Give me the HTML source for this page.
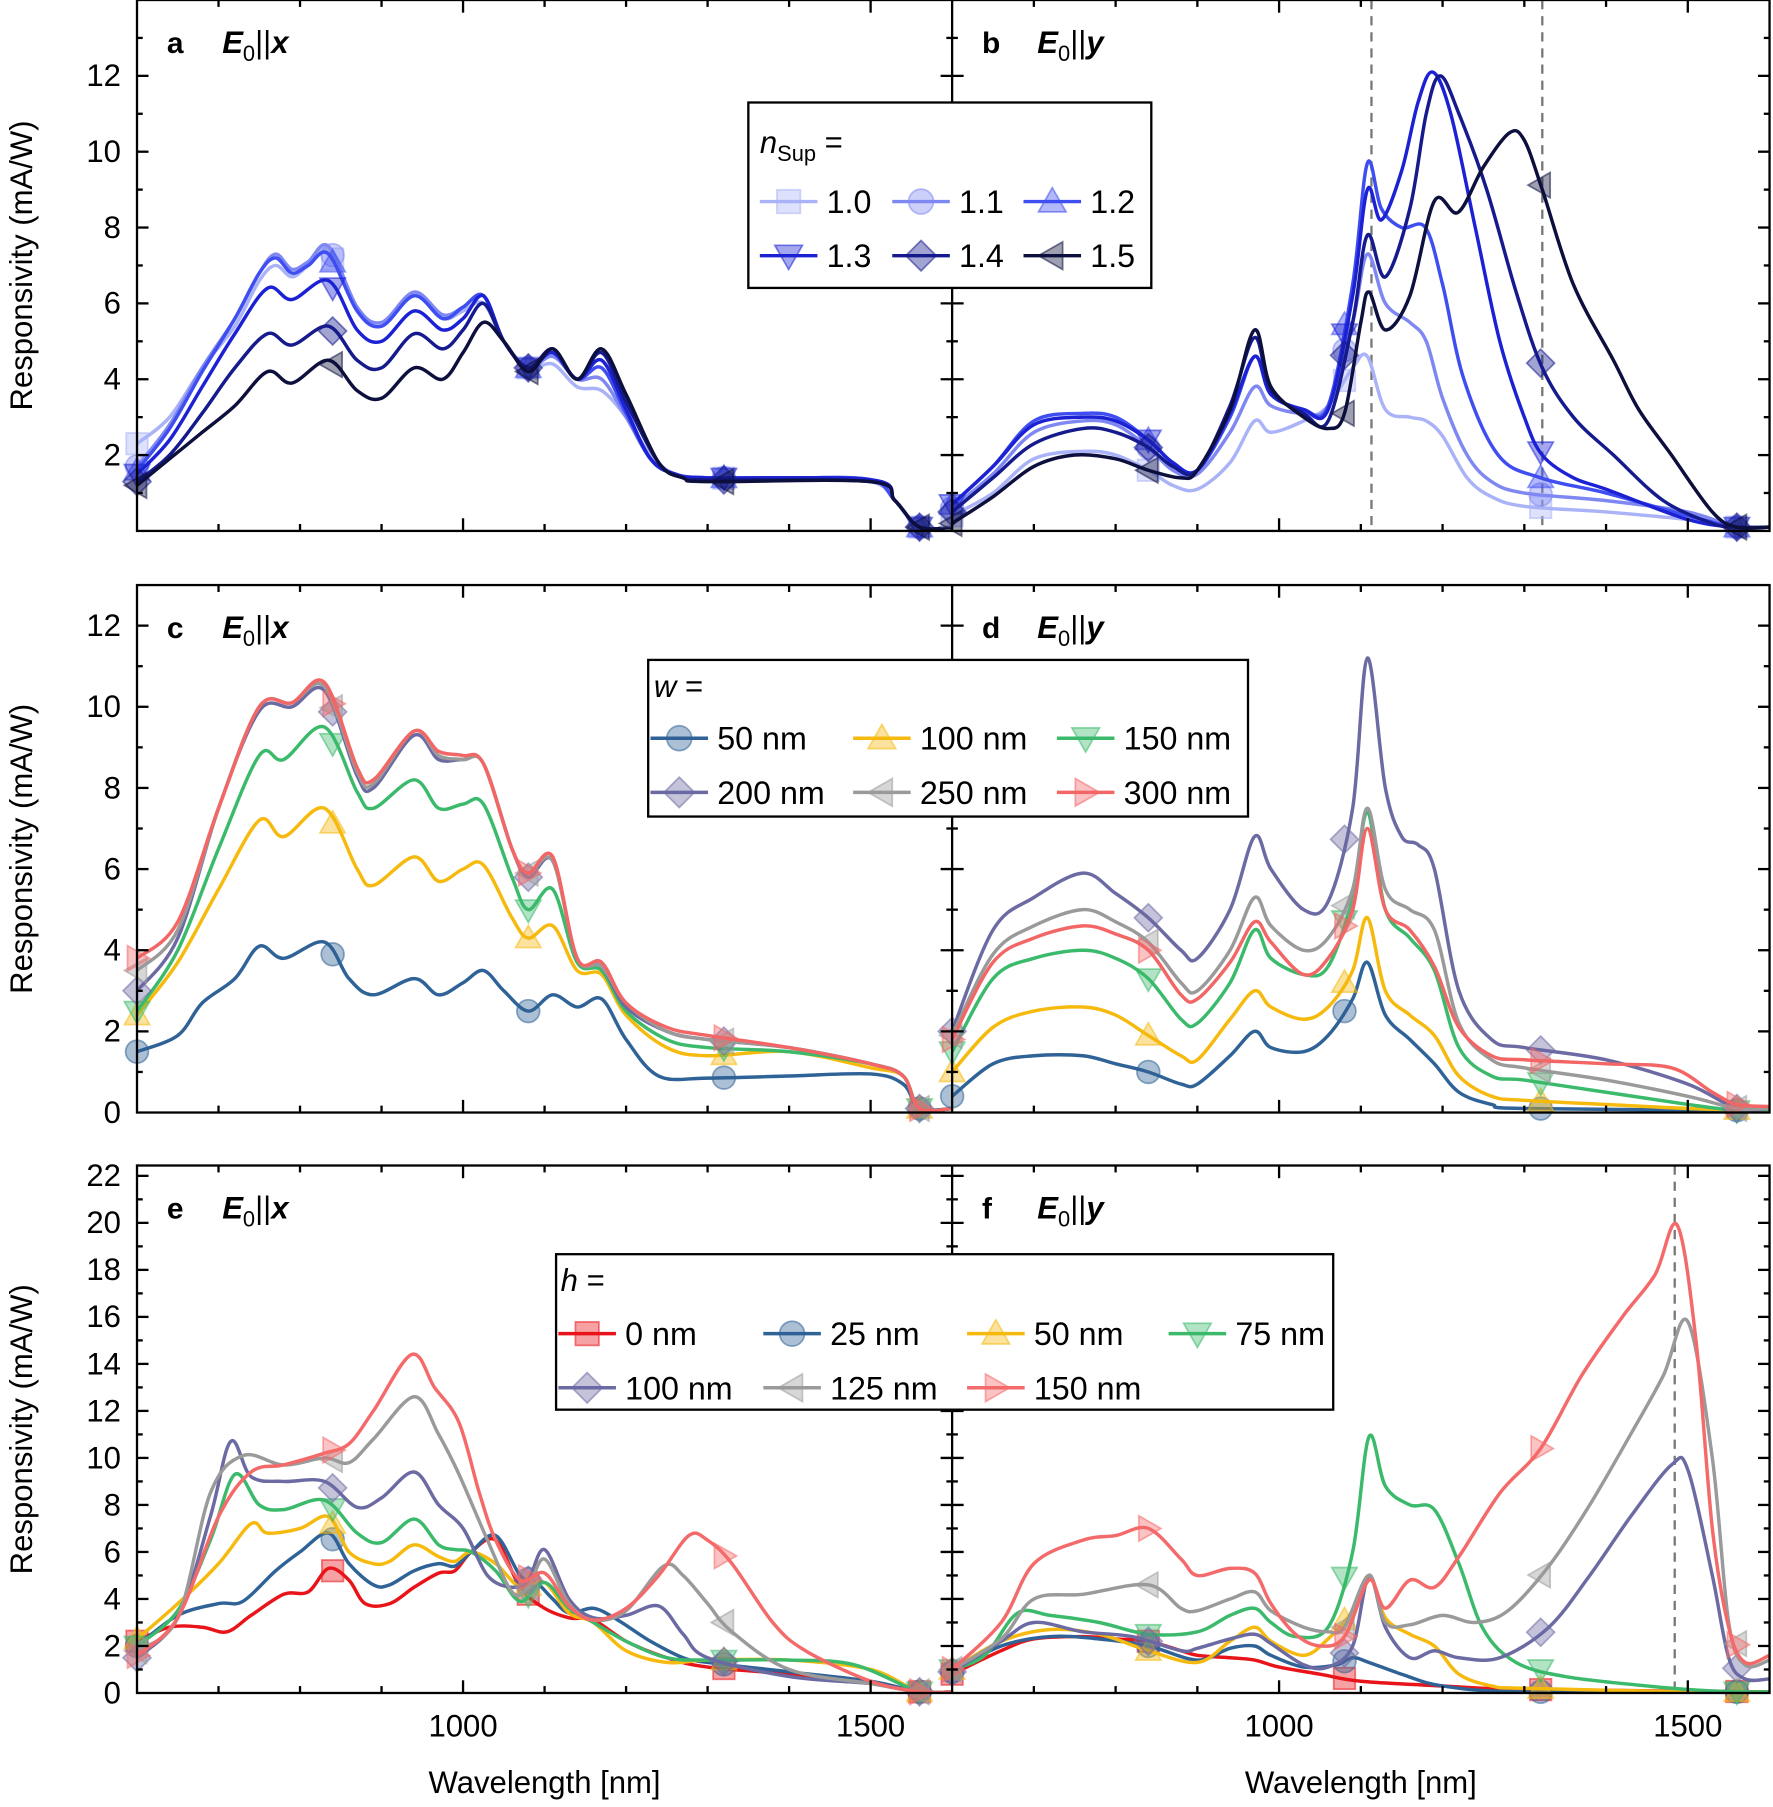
<!DOCTYPE html>
<html><head><meta charset="utf-8">
<style>html,body{margin:0;padding:0;background:#fff}svg{display:block}</style>
</head><body>
<svg id="s" xmlns="http://www.w3.org/2000/svg" width="1773" height="1807" viewBox="0 0 1540 1569" preserveAspectRatio="none" font-family="Liberation Sans, sans-serif"></svg>
<script>
const S=document.getElementById('s');let H='';
const P={a:{x0:119,x1:827,t:0,b:461,ym:14},b:{x0:827,x1:1537,t:0,b:461,ym:14},
c:{x0:119,x1:827,t:508,b:966,ym:13},d:{x0:827,x1:1537,t:508,b:966,ym:13},
e:{x0:119,x1:827,t:1012,b:1470,ym:22.44},f:{x0:827,x1:1537,t:1012,b:1470,ym:22.44}};
const X=(p,n)=>p.x0+(n-600)*(p.x1-p.x0)/1000, Y=(p,v)=>p.b-v*(p.b-p.t)/p.ym;
function path(pts){let d='M'+pts[0][0].toFixed(1)+','+pts[0][1].toFixed(1);
for(let i=0;i<pts.length-1;i++){const p0=pts[Math.max(0,i-1)],p1=pts[i],p2=pts[i+1],p3=pts[Math.min(pts.length-1,i+2)];
const c1=[p1[0]+(p2[0]-p0[0])/6,p1[1]+(p2[1]-p0[1])/6],c2=[p2[0]-(p3[0]-p1[0])/6,p2[1]-(p3[1]-p1[1])/6];
d+=' C'+c1.map(v=>v.toFixed(1))+' '+c2.map(v=>v.toFixed(1))+' '+p2.map(v=>v.toFixed(1));}return d;}
function interp(a,n){for(let i=0;i<a.length-2;i+=2){if(n>=a[i]&&n<=a[i+2]){const t=(n-a[i])/(a[i+2]-a[i]);return a[i+1]+t*(a[i+3]-a[i+1]);}}return a[a.length-1];}
function marker(sh,x,y,c,r){r=r||11;const st=`fill="${c}" fill-opacity="0.4" stroke="${c}" stroke-opacity="0.55" stroke-width="1.5"`;
switch(sh){case'sq':return`<rect x="${x-r*0.85}" y="${y-r*0.85}" width="${r*1.7}" height="${r*1.7}" ${st}/>`;
case'ci':return`<circle cx="${x}" cy="${y}" r="${r*0.9}" ${st}/>`;
case'up':return`<polygon points="${x},${y-r} ${x-r},${y+r*0.75} ${x+r},${y+r*0.75}" ${st}/>`;
case'dn':return`<polygon points="${x},${y+r} ${x-r},${y-r*0.75} ${x+r},${y-r*0.75}" ${st}/>`;
case'di':return`<polygon points="${x},${y-r*1.1} ${x+r*1.1},${y} ${x},${y+r*1.1} ${x-r*1.1},${y}" ${st}/>`;
case'le':return`<polygon points="${x-r},${y} ${x+r*0.75},${y-r} ${x+r*0.75},${y+r}" ${st}/>`;
case're':return`<polygon points="${x+r},${y} ${x-r*0.75},${y-r} ${x-r*0.75},${y+r}" ${st}/>`;}}
const MK=[600,840,1080,1320,1560];
function series(pk,data,col,sh){const p=P[pk];const pts=[];for(let i=0;i<data.length;i+=2)pts.push([X(p,data[i]),Y(p,data[i+1])]);
H+=`<path d="${path(pts)}" fill="none" stroke="${col}" stroke-width="3" stroke-linejoin="round" clip-path="url(#cl${pk})"/>`;
MK.forEach(n=>{H+=marker(sh,X(p,n),Y(p,interp(data,n)),col);});}
// clips
H+='<defs>';for(const k in P){const p=P[k];H+=`<clipPath id="cl${k}"><rect x="${p.x0}" y="${p.t}" width="${p.x1-p.x0}" height="${p.b-p.t}"/></clipPath>`;}H+='</defs>';
// dashed lines
[[ 'b',1113],['b',1322],['f',1484]].forEach(([k,n])=>{const p=P[k];const x=X(p,n);H+=`<line x1="${x}" x2="${x}" y1="${p.t}" y2="${p.b}" stroke="#777" stroke-width="2" stroke-dasharray="8,6"/>`;});
const CA=['#aab3f7','#7f88f2','#3f4ef0','#1c22d4','#151a8c','#0d0f3d'],SA=['sq','ci','up','dn','di','le'];
const A=[[600,2.3,640,3.0,680,4.3,720,5.4,750,6.6,770,7.0,790,6.7,810,7.0,835,7.4,870,5.8,900,5.4,940,6.2,975,5.6,1000,5.8,1025,6.0,1050,5.0,1080,4.3,1110,4.4,1140,3.8,1170,3.7,1200,3.0,1230,2.0,1260,1.5,1300,1.4,1400,1.35,1500,1.3,1530,0.8,1560,0.1,1600,0.1],
[600,1.7,640,2.8,680,4.3,720,5.6,750,6.8,770,7.3,790,6.9,810,7.1,835,7.5,870,5.9,900,5.5,940,6.3,975,5.7,1000,5.9,1025,6.2,1050,5.0,1080,4.3,1110,4.6,1140,4.0,1170,4.0,1200,3.0,1230,1.9,1260,1.5,1300,1.4,1400,1.4,1500,1.35,1530,0.8,1560,0.1,1600,0.1],
[600,1.6,640,2.7,680,4.2,720,5.6,750,6.8,770,7.2,790,6.8,810,7.0,835,7.3,870,5.8,900,5.4,940,6.2,975,5.6,1000,5.9,1025,6.2,1050,5.0,1080,4.3,1110,4.7,1140,4.0,1170,4.3,1200,3.1,1230,1.9,1260,1.5,1300,1.4,1400,1.4,1500,1.35,1530,0.8,1560,0.1,1600,0.1],
[600,1.5,640,2.4,680,3.8,720,5.2,760,6.4,790,6.1,835,6.6,870,5.3,900,5.0,940,5.8,975,5.3,1000,5.6,1025,6.2,1050,5.0,1080,4.3,1110,4.7,1140,4.0,1170,4.5,1200,3.2,1230,1.9,1260,1.5,1300,1.4,1500,1.35,1530,0.8,1560,0.1,1600,0.1],
[600,1.3,640,2.0,680,3.1,720,4.3,760,5.2,790,4.9,835,5.4,870,4.5,900,4.3,940,5.2,975,4.8,1000,5.3,1025,6.0,1050,5.0,1080,4.3,1110,4.8,1140,4.0,1170,4.7,1200,3.4,1240,1.8,1270,1.4,1300,1.35,1500,1.3,1530,0.8,1560,0.1,1600,0.1],
[600,1.2,640,1.9,680,2.6,720,3.3,760,4.2,790,3.9,835,4.5,870,3.7,900,3.5,940,4.3,975,4.0,1000,4.7,1025,5.5,1050,5.0,1080,4.2,1110,4.8,1140,4.0,1170,4.8,1200,3.6,1240,1.8,1270,1.4,1300,1.3,1500,1.3,1530,0.8,1560,0.1,1600,0.1]];
const B=[[600,0.4,650,1.0,700,1.9,760,2.1,800,2.0,840,1.6,870,1.2,900,1.1,940,1.8,970,2.9,990,2.6,1030,2.9,1060,3.3,1090,4.3,1108,4.6,1130,3.2,1160,3.0,1180,2.9,1200,2.5,1230,1.4,1260,0.9,1300,0.65,1400,0.5,1500,0.3,1560,0.1,1600,0.1],
[600,0.6,650,1.5,700,2.6,760,2.9,800,2.8,840,2.2,870,1.6,900,1.5,940,2.6,970,3.8,990,3.3,1030,3.1,1060,3.3,1090,5.5,1108,7.3,1130,6.0,1160,5.5,1180,5.0,1200,3.5,1230,2.0,1260,1.3,1300,1.0,1400,0.8,1500,0.5,1560,0.1,1600,0.1],
[600,0.7,650,1.7,700,2.9,760,3.1,800,3.0,840,2.4,870,1.8,900,1.6,940,3.0,970,4.6,990,3.6,1030,3.2,1060,3.3,1090,6.5,1108,9.7,1125,8.5,1150,8.0,1179,8.0,1200,6.5,1226,4.0,1268,2.0,1320,1.4,1400,1.0,1500,0.4,1560,0.1,1600,0.1],
[600,0.7,650,1.7,700,2.8,760,3.0,800,2.9,840,2.4,870,1.8,900,1.6,940,3.1,970,4.6,990,3.6,1030,3.2,1060,3.2,1090,6.2,1108,9.0,1125,8.2,1150,9.5,1170,11.3,1188,12.1,1210,11,1240,8.0,1270,5.0,1300,3.0,1322,2.0,1360,1.4,1400,1.1,1500,0.3,1560,0.1,1600,0.1],
[600,0.5,650,1.4,700,2.3,760,2.7,800,2.6,840,2.2,870,1.7,900,1.6,940,3.3,970,5.1,990,3.7,1030,3.1,1060,2.9,1090,5.5,1108,7.8,1130,6.7,1160,8.5,1180,11.0,1197,12.0,1220,11.0,1254,9.0,1290,6.3,1322,4.3,1360,3.0,1409,2.0,1470,0.8,1530,0.2,1560,0.1,1600,0.1],
[600,0.2,650,0.9,700,1.7,750,2.0,800,1.9,840,1.6,880,1.4,900,1.6,940,3.2,970,5.3,990,3.8,1030,3.0,1060,2.7,1080,3.1,1100,5.5,1110,6.3,1130,5.3,1160,6.2,1190,8.7,1219,8.4,1250,9.6,1282,10.5,1300,10.3,1322,9.0,1360,6.5,1409,4.5,1440,3.2,1480,2.0,1530,0.5,1560,0.1,1600,0.1]];
A.forEach((d,i)=>series('a',d,CA[i],SA[i]));B.forEach((d,i)=>series('b',d,CA[i],SA[i]));
const CW=['#2f6296','#f6ba0e','#3bba6c','#6b6aa3','#9a9a9a','#f26666'],SW=['ci','up','dn','di','le','re'];
const C=[[600,1.5,650,1.9,680,2.7,720,3.3,750,4.1,780,3.8,830,4.2,860,3.3,890,2.9,940,3.3,970,2.9,1000,3.2,1025,3.5,1050,3.0,1080,2.5,1110,2.9,1140,2.6,1170,2.8,1200,1.8,1240,0.9,1300,0.85,1400,0.9,1500,0.95,1540,0.7,1560,0.1,1600,0.1],
[600,2.4,650,3.7,700,5.5,750,7.2,780,6.8,830,7.5,870,6.0,890,5.6,940,6.3,970,5.7,1000,6.0,1025,6.1,1060,4.8,1080,4.3,1110,4.6,1140,3.5,1170,3.4,1200,2.4,1250,1.6,1300,1.4,1400,1.5,1500,1.1,1540,0.9,1560,0.1,1600,0.1],
[600,2.5,650,4.0,700,6.5,750,8.8,780,8.7,830,9.5,870,7.9,890,7.5,940,8.2,970,7.5,1000,7.6,1025,7.6,1060,5.8,1080,5.0,1110,5.5,1140,3.7,1170,3.5,1200,2.5,1250,1.8,1300,1.6,1400,1.5,1500,1.2,1540,0.9,1560,0.1,1600,0.1],
[600,3.0,650,4.3,700,7.5,750,9.9,790,10.0,830,10.4,870,8.3,890,8.0,940,9.3,970,8.7,1000,8.7,1025,8.6,1060,6.5,1080,5.8,1110,6.2,1140,3.8,1170,3.6,1200,2.6,1250,2.0,1300,1.8,1400,1.6,1500,1.2,1540,0.9,1560,0.1,1600,0.1],
[600,3.5,650,4.5,700,7.5,750,10.0,790,10.1,830,10.5,870,8.4,890,8.1,940,9.4,970,8.8,1000,8.7,1025,8.6,1060,6.5,1080,5.9,1110,6.2,1140,3.8,1170,3.6,1200,2.7,1250,2.0,1300,1.8,1400,1.6,1500,1.2,1540,0.9,1560,0.1,1600,0.1],
[600,3.8,650,4.7,700,7.5,750,10.0,790,10.1,830,10.6,870,8.5,890,8.2,940,9.4,970,8.9,1000,8.8,1025,8.6,1060,6.5,1080,5.9,1110,6.3,1140,3.8,1170,3.7,1200,2.7,1250,2.1,1300,1.9,1400,1.6,1500,1.2,1540,0.9,1560,0.1,1600,0.1]];
const D=[[600,0.4,650,1.2,700,1.4,760,1.4,800,1.2,840,1.0,880,0.7,900,0.7,940,1.4,970,2.0,990,1.6,1030,1.5,1060,1.9,1090,2.8,1108,3.7,1130,2.4,1160,1.8,1190,1.2,1220,0.5,1260,0.2,1300,0.1,1600,0.05],
[600,1.0,650,2.1,700,2.5,760,2.6,800,2.4,840,1.9,880,1.4,900,1.3,940,2.3,970,3.0,990,2.6,1030,2.3,1060,2.6,1090,3.5,1108,4.8,1130,3.0,1160,2.4,1190,1.9,1220,0.9,1260,0.4,1300,0.3,1400,0.2,1500,0.1,1600,0.05],
[600,1.5,650,3.3,700,3.8,760,4.0,800,3.8,840,3.3,880,2.3,900,2.2,940,3.2,970,4.5,990,3.8,1030,3.4,1060,3.6,1090,5.3,1108,7.4,1130,5.0,1160,4.3,1190,3.5,1220,1.6,1260,0.9,1300,0.8,1400,0.5,1500,0.2,1560,0.05,1600,0.05],
[600,2.0,650,4.5,700,5.3,760,5.9,800,5.4,840,4.8,880,4.0,900,3.8,940,5.0,970,6.8,990,6.0,1030,5.0,1060,5.2,1090,7.5,1108,11.2,1130,8.0,1150,6.8,1170,6.6,1190,6.0,1220,3.0,1260,1.8,1300,1.6,1400,1.3,1500,0.7,1560,0.1,1600,0.1],
[600,1.9,650,3.9,700,4.6,760,5.0,800,4.7,840,4.2,880,3.2,900,3.0,940,4.0,970,5.3,990,4.6,1030,4.0,1060,4.3,1090,5.5,1108,7.5,1130,5.5,1160,5.0,1190,4.5,1220,2.2,1260,1.3,1300,1.1,1400,0.8,1500,0.4,1560,0.1,1600,0.1],
[600,1.8,650,3.7,700,4.3,760,4.6,800,4.4,840,4.0,880,2.9,900,2.8,940,3.7,970,4.7,990,4.2,1030,3.4,1060,3.8,1090,5.0,1108,7.0,1130,5.0,1160,4.5,1190,3.6,1220,2.1,1260,1.4,1300,1.3,1400,1.2,1480,1.1,1530,0.5,1560,0.2,1600,0.15]];
C.forEach((d,i)=>series('c',d,CW[i],SW[i]));D.forEach((d,i)=>series('d',d,CW[i],SW[i]));
const CH=['#e8141a','#2f6296','#f6ba0e','#3bba6c','#6b6aa3','#9a9a9a','#f46a6a'],SH=['sq','ci','up','dn','di','le','re'];
const E=[[600,2.2,640,2.8,680,2.8,710,2.6,740,3.3,780,4.2,810,4.3,835,5.3,860,4.8,880,3.8,910,3.8,940,4.5,970,5.1,990,5.2,1010,6.0,1040,6.5,1070,4.5,1100,3.6,1130,3.2,1160,3.1,1200,2.2,1250,1.5,1300,1.1,1400,0.8,1500,0.4,1560,0.05,1600,0.05],
[600,2.0,650,3.3,700,3.8,730,3.9,770,5.2,800,6.0,835,6.8,860,5.5,890,4.6,910,4.6,940,5.2,970,5.5,990,5.4,1010,6.0,1040,6.7,1070,5.0,1090,4.7,1110,4.0,1130,3.4,1160,3.6,1190,3.1,1230,2.2,1270,1.5,1300,1.3,1400,0.9,1500,0.5,1560,0.05,1600,0.05],
[600,2.3,650,3.8,700,5.5,740,7.2,760,6.8,800,7.0,835,7.5,860,6.0,890,5.5,910,5.6,940,6.3,970,5.8,990,5.6,1010,6.0,1040,5.5,1070,4.5,1100,4.7,1130,3.4,1160,3.0,1200,1.8,1250,1.3,1300,1.4,1400,1.4,1500,1.0,1560,0.05,1600,0.05],
[600,2.0,650,3.5,690,6.5,720,9.3,750,8.0,780,7.8,830,8.2,870,6.8,900,6.4,940,7.4,970,6.3,990,6.1,1010,6.0,1040,5.2,1070,3.9,1100,4.7,1130,3.6,1160,3.0,1200,2.2,1250,1.5,1300,1.4,1400,1.4,1480,1.2,1560,0.05,1600,0.05],
[600,1.5,650,3.2,690,7.5,715,10.7,740,9.2,780,9.0,830,9.0,870,7.9,900,8.3,940,9.4,970,8.0,1000,7.0,1030,5.0,1060,4.5,1080,4.8,1100,6.1,1130,4.0,1160,3.2,1200,3.3,1240,3.7,1270,2.5,1300,1.5,1400,0.7,1500,0.4,1560,0.05,1600,0.05],
[600,1.8,650,3.2,690,8.5,730,10.1,780,9.7,830,10.0,860,9.8,890,10.8,940,12.6,970,11.0,995,9.3,1030,6.5,1060,4.3,1080,4.5,1100,5.7,1130,3.8,1160,3.1,1200,3.5,1246,5.4,1270,5.0,1300,3.8,1330,2.6,1400,1.0,1500,0.4,1560,0.05,1600,0.05],
[600,1.6,650,3.2,700,7.5,740,9.4,780,9.7,830,10.2,860,10.6,890,12.0,937,14.4,965,13.0,995,11.5,1020,8.5,1040,6.5,1070,4.8,1100,5.1,1130,3.7,1160,3.1,1200,3.6,1240,5.0,1277,6.7,1300,6.5,1330,5.5,1380,3.0,1420,1.8,1500,0.5,1560,0.05,1600,0.05]];
const F=[[600,0.8,660,1.8,700,2.3,760,2.4,800,2.3,840,2.2,880,1.8,900,1.6,940,1.5,970,1.4,1000,1.1,1050,0.8,1100,0.5,1200,0.3,1300,0.15,1600,0.05],
[600,0.9,660,2.0,720,2.4,780,2.3,840,2.0,900,1.4,940,1.9,970,2.0,990,1.6,1030,1.1,1070,1.2,1090,1.5,1110,1.3,1150,0.8,1200,0.3,1300,0.05,1600,0.05],
[600,1.0,660,2.2,720,2.7,780,2.5,840,1.8,900,1.3,940,2.2,970,2.8,990,2.2,1030,1.6,1060,2.3,1090,3.5,1110,5.0,1130,3.2,1160,2.5,1190,2.0,1220,0.8,1260,0.3,1300,0.2,1500,0.05,1600,0.05],
[600,1.0,640,1.6,680,3.4,720,3.3,780,3.0,840,2.5,900,2.6,940,3.3,970,3.6,990,3.0,1020,2.4,1060,2.8,1090,6.0,1110,10.9,1130,8.8,1160,8.0,1190,7.8,1220,5.5,1250,2.7,1290,1.3,1350,0.7,1450,0.3,1500,0.15,1560,0.05,1600,0.05],
[600,0.9,660,2.2,700,3.0,760,2.6,820,2.4,880,1.8,900,1.9,940,2.3,970,2.5,990,2.1,1030,1.2,1060,1.1,1090,2.0,1110,5.0,1130,2.8,1160,1.5,1190,1.8,1220,1.5,1270,1.5,1330,2.8,1380,5.0,1430,7.5,1480,9.7,1500,9.5,1530,5.0,1550,1.5,1570,0.6,1600,0.6],
[600,1.0,660,2.3,700,4.0,760,4.2,840,4.6,880,3.6,900,3.5,940,4.0,970,4.3,990,3.5,1030,2.8,1060,2.6,1080,2.8,1110,5.0,1130,3.0,1160,2.9,1200,3.3,1240,3.0,1280,3.5,1330,5.4,1380,8.0,1430,11.0,1470,13.5,1500,15.8,1530,10.0,1550,3.0,1570,1.2,1600,1.4],
[600,1.0,660,3.0,700,5.5,760,6.5,800,6.7,840,7.0,880,5.7,900,5.0,940,5.3,970,5.1,990,3.8,1020,2.5,1050,2.0,1080,2.4,1110,4.8,1130,3.6,1160,4.8,1190,4.5,1220,5.8,1270,8.5,1320,10.4,1370,13.5,1420,16.0,1460,17.8,1487,19.9,1510,15.0,1530,7.0,1550,2.8,1570,1.3,1600,1.6]];
E.forEach((d,i)=>series('e',d,CH[i],SH[i]));F.forEach((d,i)=>series('f',d,CH[i],SH[i]));
// axes
const L=(x1,y1,x2,y2,w)=>`<line x1="${x1}" y1="${y1}" x2="${x2}" y2="${y2}" stroke="#000" stroke-width="${w||2}"/>`;
const T=(x,y,s,a,fs)=>`<text x="${x}" y="${y}" font-size="${fs||27}" text-anchor="${a||'start'}">${s}</text>`;
[['a','b',2,[2,4,6,8,10,12],1],['c','d',2,[0,2,4,6,8,10,12],1],['e','f',2,[0,2,4,6,8,10,12,14,16,18,20,22],1]].forEach(([l,r,st,labs])=>{
const p=P[l],q=P[r];
H+=`<rect x="${p.x0}" y="${p.t}" width="${q.x1-p.x0}" height="${p.b-p.t}" fill="none" stroke="#000" stroke-width="2"/>`;
H+=L(p.x1,p.t,p.x1,p.b);
for(let v=1;v<p.ym;v++){const y=Y(p,v),maj=v%2==0,len=maj?10:5;
H+=L(p.x0,y,p.x0+len,y)+L(p.x1-len,y,p.x1+len,y)+L(q.x1-len,y,q.x1,y);}
labs.forEach(v=>{H+=T(105,Y(p,v)+9,v,'end');});
[p,q].forEach(pp=>{for(let n=700;n<=1500;n+=100){const x=X(pp,n),len=(n%500==0)?11:6;H+=L(x,pp.b,x,pp.b-len)+L(x,pp.t,x,pp.t+len);}});
H+=`<text transform="translate(28,${(p.t+p.b)/2}) rotate(-90)" font-size="27" text-anchor="middle">Responsivity (mA/W)</text>`;
});
['e','f'].forEach(k=>{const p=P[k];H+=T(X(p,1000),1508,'1000','middle')+T(X(p,1500),1508,'1500','middle')+T(X(p,1100),1557,'Wavelength [nm]','middle');});
// panel labels
[['a','a','x'],['b','b','y'],['c','c','x'],['d','d','y'],['e','e','x'],['f','f','y']].forEach(([k,s,ax])=>{const p=P[k];const y=p.t+46;
H+=`<text x="${p.x0+26}" y="${y}" font-size="26" font-weight="bold">${s}</text><text x="${p.x0+74}" y="${y}" font-size="27" font-weight="bold" font-style="italic">E<tspan font-size="19" font-style="normal" font-weight="normal" dy="7">0</tspan><tspan dy="-7" font-weight="normal" font-style="normal">||</tspan>${ax}</text>`;});
// legends
function legend(box,title,items,cols,xs,ys){H+=`<rect x="${box[0]}" y="${box[1]}" width="${box[2]-box[0]}" height="${box[3]-box[1]}" fill="#fff" stroke="#000" stroke-width="2"/>`+title;
items.forEach((it,i)=>{const x=xs[i%cols],y=ys[Math.floor(i/cols)];H+=`<line x1="${x}" x2="${x+50}" y1="${y}" y2="${y}" stroke="${it[1]}" stroke-width="3"/>`+marker(it[2],x+25,y,it[1],12)+T(x+58,y+10,it[0],'start',28);});}
legend([650,89,1000,250],`<text x="660" y="133" font-size="27"><tspan font-style="italic">n</tspan><tspan font-size="19" dy="7">Sup</tspan><tspan dy="-7"> =</tspan></text>`,
['1.0','1.1','1.2','1.3','1.4','1.5'].map((s,i)=>[s,CA[i],SA[i]]),3,[660,775,889],[175,222]);
legend([563,573,1084,709],`<text x="568" y="605" font-size="27" font-style="italic">w<tspan font-style="normal"> =</tspan></text>`,
['50 nm','100 nm','150 nm','200 nm','250 nm','300 nm'].map((s,i)=>[s,CW[i],SW[i]]),3,[565,741,918],[641,688]);
legend([483,1089,1158,1224],`<text x="487" y="1121" font-size="27" font-style="italic">h<tspan font-style="normal"> =</tspan></text>`,
['0 nm','25 nm','50 nm','75 nm','100 nm','125 nm','150 nm'].map((s,i)=>[s,CH[i],SH[i]]),4,[485,663,840,1015],[1158,1205]);
S.innerHTML=H;
</script>
</body></html>
